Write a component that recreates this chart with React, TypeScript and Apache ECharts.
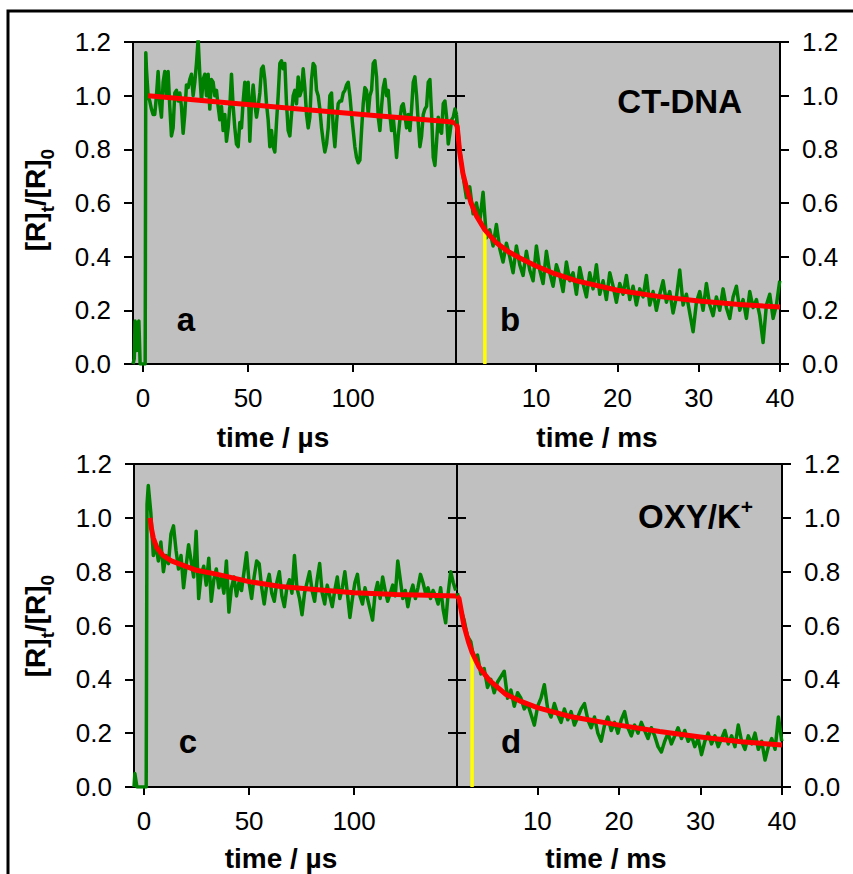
import React, { useEffect, useRef } from "react";
import * as echarts from "echarts";

const FONT = '"Liberation Sans", Arial, Helvetica, sans-serif';

// ---- tick labels ----
const yTickInterval = 0.2;
const usTicks = [0, 50, 100];
const msTicks = [10, 20, 30, 40];

// ---- panel a (CT-DNA, µs) ----
const aPreT = [-4.8, -4.2, -3.8, -3.2, -2.6, -2.0, -1.4, -0.8, 0.4, 1.0, 1.3];
const aPreV = [0.0, 0.02, 0.16, 0.05, 0.15, 0.16, 0.0, 0.0, 0.0, 0.0, 1.16];
const aStart = 1.6;
const aStep = 0.794;
const aVals = [
  1.1, 1.0, 0.98, 0.95, 0.93, 0.93, 1.0, 1.09, 0.97, 0.92, 1.05, 1.09, 1.0, 1.09, 0.96, 0.85, 0.88, 1.01, 1.02, 0.98,
  1.01, 0.96, 0.86, 0.93, 1.04, 1.03, 1.06, 1.08, 1.0, 1.05, 1.12, 1.21, 1.08, 0.98, 1.06, 1.08, 1.0, 1.08, 0.95, 1.06,
  1.05, 1.0, 1.02, 0.96, 0.91, 0.96, 0.87, 0.93, 0.83, 0.88, 0.96, 1.08, 0.96, 0.88, 0.82, 0.81, 0.9, 0.88, 0.98, 1.05,
  0.98, 1.05, 0.83, 0.97, 1.04, 0.97, 0.92, 0.96, 1.01, 1.1, 1.11, 1.06, 0.97, 0.91, 0.81, 0.87, 0.81, 0.79, 0.9, 1.0,
  1.12, 1.13, 1.1, 1.12, 0.97, 0.87, 0.85, 0.93, 1.0, 1.02, 0.97, 1.07, 1.0, 1.02,
  1.1, 1.03, 0.93, 0.88, 0.92, 1.06, 1.12, 1.11, 1.02, 1.0, 0.95, 0.88, 0.83, 0.79, 0.82, 0.88, 1.0, 1.01, 0.88, 0.81,
  0.9, 0.97, 0.98, 0.98, 1.01, 1.02, 1.04, 1.05, 1.0, 0.93, 0.87, 0.81, 0.77, 0.75, 0.76, 0.87, 0.97, 1.03, 1.02, 0.93,
  1.0, 1.02, 1.12, 1.13, 1.07, 0.92, 0.87, 0.96, 1.03, 1.06, 1.0, 1.02, 0.93, 0.87, 0.92, 0.85, 0.77, 0.85, 0.91, 0.96,
  0.97, 0.93, 0.88, 0.93, 0.87, 0.95, 1.05, 1.07, 1.0, 0.9, 0.81, 0.85, 0.93, 0.95, 0.96, 1.05, 1.06, 0.93, 0.77, 0.74,
  0.83, 0.92, 0.87, 0.86, 0.97, 0.98, 0.92, 0.82, 0.86, 0.91, 0.92, 0.95, 0.93,
];
const aFitT = [2.4, 40, 70, 110, 146, 149];
const aFitV = [1.0, 0.974, 0.953, 0.926, 0.903, 0.897];

// ---- panel b (CT-DNA, ms) ----
const bStart = 0.2;
const bStep = 0.41;
const bVals = [
  0.93, 0.8, 0.7, 0.62, 0.66, 0.56, 0.6, 0.53, 0.64, 0.47, 0.5, 0.44, 0.52, 0.43, 0.38, 0.45, 0.4, 0.34, 0.44, 0.37,
  0.33, 0.42, 0.35, 0.31, 0.44, 0.35, 0.3, 0.42, 0.34, 0.29, 0.37, 0.33, 0.27, 0.38, 0.31, 0.34, 0.26, 0.36, 0.3, 0.25,
  0.34, 0.28, 0.37, 0.26, 0.31, 0.24, 0.34, 0.29, 0.23, 0.3, 0.26, 0.33, 0.24, 0.29, 0.22, 0.28, 0.25, 0.33, 0.22, 0.27,
  0.2, 0.26, 0.31, 0.23, 0.27, 0.19, 0.25, 0.35, 0.22, 0.26, 0.19, 0.12, 0.23, 0.27, 0.2, 0.3, 0.22, 0.18, 0.25, 0.2,
  0.28, 0.21, 0.17, 0.25, 0.29, 0.2, 0.24, 0.17, 0.27, 0.21, 0.24, 0.18, 0.08, 0.22, 0.26, 0.17, 0.22, 0.31,
];
const bFitT = [0.15, 0.3, 0.6, 1.0, 1.5, 2.0, 2.7, 3.7, 5.0, 6.5, 8, 10, 12, 15, 20, 25, 30, 35, 40];
const bFitV = [0.894, 0.885, 0.79, 0.71, 0.65, 0.6, 0.55, 0.5, 0.455, 0.42, 0.395, 0.365, 0.34, 0.31, 0.275, 0.252, 0.235, 0.222, 0.212];
const bHalfT = 3.7;

// ---- panel c (OXY/K+, µs) ----
const cPreT = [-4.8, -4.4, -4.0, -3.4, -2.8, -1.5, 0, 0.6, 1.0, 1.4];
const cPreV = [0.0, 0.05, 0.03, 0.0, 0.0, 0.0, 0.0, 0.0, 0.0, 1.05];
const cStart = 2.0;
const cStep = 1.2;
const cVals = [
  1.12, 1.02, 0.86, 0.9, 0.84, 0.91, 0.8, 0.86, 0.83, 0.94, 0.97, 0.88, 0.81, 0.86, 0.74, 0.82, 0.9, 0.84, 0.78, 0.95,
  0.7, 0.79, 0.82, 0.75, 0.85, 0.69, 0.77, 0.81, 0.74, 0.78, 0.72, 0.84, 0.65, 0.74, 0.78, 0.71, 0.76, 0.73, 0.8, 0.87,
  0.76, 0.7, 0.78, 0.84, 0.83, 0.74, 0.68, 0.75, 0.79, 0.72, 0.69, 0.76, 0.8, 0.71, 0.67, 0.74, 0.77, 0.72, 0.86, 0.74,
  0.7, 0.64, 0.72, 0.76, 0.8, 0.73, 0.69, 0.77, 0.83, 0.72, 0.68, 0.75, 0.71, 0.67, 0.73, 0.78, 0.7, 0.74, 0.8, 0.72,
  0.63, 0.7, 0.76, 0.79, 0.71, 0.68, 0.74, 0.7, 0.66, 0.62, 0.72, 0.76, 0.7, 0.78, 0.73, 0.69, 0.72, 0.75, 0.71, 0.84,
  0.77, 0.7, 0.73, 0.67, 0.72, 0.75, 0.7, 0.74, 0.79, 0.76, 0.72, 0.74, 0.7, 0.73, 0.71, 0.68, 0.74, 0.66, 0.61, 0.72,
  0.8, 0.76, 0.73,
];
const cFitT = [2.8, 3.5, 4.4, 6, 9, 13, 18, 25, 35, 50, 65, 80, 100, 120, 149];
const cFitV = [1.0, 0.96, 0.925, 0.89, 0.86, 0.84, 0.825, 0.805, 0.79, 0.763, 0.745, 0.735, 0.722, 0.715, 0.71];

// ---- panel d (OXY/K+, ms) ----
const dStart = 0.2;
const dStep = 0.41;
const dVals = [
  0.72, 0.66, 0.62, 0.56, 0.54, 0.47, 0.49, 0.42, 0.44, 0.37, 0.4, 0.35, 0.39, 0.41, 0.43, 0.33, 0.36, 0.3, 0.35, 0.33,
  0.29, 0.31, 0.27, 0.23, 0.3, 0.33, 0.38, 0.29, 0.26, 0.31, 0.27, 0.24, 0.29, 0.25, 0.28, 0.23, 0.26, 0.29, 0.31, 0.25,
  0.22, 0.26, 0.2, 0.17, 0.23, 0.26, 0.21, 0.24, 0.2, 0.25, 0.28, 0.22, 0.19, 0.23, 0.2, 0.24, 0.21, 0.18, 0.22, 0.19,
  0.15, 0.13, 0.17, 0.2, 0.16, 0.19, 0.22, 0.18, 0.21, 0.17, 0.19, 0.15, 0.18, 0.12, 0.17, 0.2, 0.16, 0.19, 0.15, 0.18,
  0.21, 0.16, 0.19, 0.15, 0.23, 0.17, 0.14, 0.19, 0.16, 0.2, 0.14, 0.17, 0.1, 0.15, 0.18, 0.14, 0.26, 0.17,
];
const dFitT = [0.15, 0.4, 1.0, 1.6, 2.0, 2.85, 4.1, 6.1, 8, 10, 14, 20, 25, 30, 35, 40];
const dFitV = [0.71, 0.7, 0.6, 0.535, 0.5, 0.446, 0.397, 0.345, 0.318, 0.295, 0.262, 0.23, 0.206, 0.186, 0.168, 0.156];
const dHalfT = 2.0;
const halfValue = 0.5;

const pairs = (ts: number[], vs: number[]) => ts.map((t, i) => [t, vs[i]]);
const sampled = (t0: number, dt: number, vs: number[]) => vs.map((v, i) => [+(t0 + i * dt).toFixed(3), v]);

const GREEN = "#008000";
const RED = "#ff0000";
const YELLOW = "#ffff00";
const BLACK = "#000";

function xAx(gridIndex: number, min: number, max: number, ticks: number[]) {
  return {
    type: "value",
    gridIndex,
    min,
    max,
    axisLine: { show: true, onZero: false, lineStyle: { color: BLACK, width: 2 } },
    axisTick: { show: true, customValues: ticks, length: 8, lineStyle: { color: BLACK, width: 2 } },
    axisLabel: { customValues: ticks, margin: 21, color: BLACK, fontSize: 26, fontFamily: FONT },
    splitLine: { show: false },
  };
}

function yAx(gridIndex: number, position: string, labels: boolean) {
  return {
    type: "value",
    gridIndex,
    position,
    min: 0,
    max: 1.2,
    interval: yTickInterval,
    axisLine: { show: true, onZero: false, lineStyle: { color: BLACK, width: 2 } },
    axisTick: { show: true, length: 9, lineStyle: { color: BLACK, width: 2 } },
    axisLabel: {
      show: labels,
      margin: 22,
      color: BLACK,
      fontSize: 26,
      fontFamily: FONT,
      formatter: (v: number) => v.toFixed(1),
    },
    splitLine: { show: false },
  };
}

function line(xi: number, yi: number, data: number[][], color: string, width: number) {
  return {
    type: "line",
    xAxisIndex: xi,
    yAxisIndex: yi,
    data,
    showSymbol: false,
    symbol: "none",
    silent: true,
    lineStyle: { color, width, join: "round" },
  };
}

export default function App() {
  const ref = useRef<HTMLDivElement>(null);
  useEffect(() => {
    document.body.style.margin = "0";
    document.body.style.background = "#fff";
    const chart = echarts.init(ref.current!, null, { renderer: "svg" });
    const gridBase = { show: true, backgroundColor: "#c0c0c0", borderColor: BLACK, borderWidth: 2 };
    const aData = pairs(aPreT, aPreV).concat(sampled(aStart, aStep, aVals));
    const bData = sampled(bStart, bStep, bVals);
    const cData = pairs(cPreT, cPreV).concat(sampled(cStart, cStep, cVals));
    const dData = sampled(dStart, dStep, dVals);

    const boldText = (text: string, x: number, y: number, size: number, align = "center") => ({
      type: "text",
      x,
      y,
      z: 100,
      style: {
        text,
        fill: BLACK,
        font: `bold ${size}px ${FONT}`,
        align,
        verticalAlign: "middle",
      },
    });

    const yTitle = (x: number, y: number) => ({
      type: "text",
      x,
      y,
      z: 100,
      rotation: Math.PI / 2,
      style: {
        text: "{n|[R]}{s|t}{n|/[R]}{s|0}",
        align: "center",
        verticalAlign: "middle",
        fill: BLACK,
        rich: {
          n: { fontSize: 28, fontWeight: "bold", fontFamily: FONT, lineHeight: 44, fill: BLACK, verticalAlign: "middle" },
          s: { fontSize: 19, fontWeight: "bold", fontFamily: FONT, lineHeight: 19, fill: BLACK, verticalAlign: "bottom" },
        },
      },
    });

    chart.setOption({
      animation: false,
      backgroundColor: "#fff",
      grid: [
        { ...gridBase, left: 133, top: 42, width: 323, height: 322 },
        { ...gridBase, left: 456, top: 42, width: 324, height: 322 },
        { ...gridBase, left: 134, top: 464, width: 323, height: 323 },
        { ...gridBase, left: 457, top: 464, width: 325, height: 323 },
      ],
      xAxis: [
        xAx(0, -4.8, 149, usTicks),
        xAx(1, 0.15, 40, msTicks),
        xAx(2, -4.8, 149, usTicks),
        xAx(3, 0.15, 40, msTicks),
      ],
      yAxis: [
        yAx(0, "left", true),
        yAx(0, "right", false),
        yAx(1, "right", true),
        yAx(1, "left", false),
        yAx(2, "left", true),
        yAx(2, "right", false),
        yAx(3, "right", true),
        yAx(3, "left", false),
      ],
      series: [
        line(0, 0, aData, GREEN, 3.5),
        line(0, 0, pairs(aFitT, aFitV), RED, 5),
        line(1, 2, bData, GREEN, 3.5),
        line(1, 2, [[bHalfT, 0], [bHalfT, halfValue]], YELLOW, 3.5),
        line(1, 2, pairs(bFitT, bFitV), RED, 5),
        line(2, 4, cData, GREEN, 3.5),
        line(2, 4, pairs(cFitT, cFitV), RED, 5),
        line(3, 6, dData, GREEN, 3.5),
        line(3, 6, [[dHalfT, 0], [dHalfT, halfValue]], YELLOW, 3.5),
        line(3, 6, pairs(dFitT, dFitV), RED, 5),
      ],
      graphic: [
        {
          type: "polyline",
          z: 100,
          shape: { points: [[8, 874], [8, 11], [853, 11]] },
          style: { stroke: BLACK, lineWidth: 3, fill: "none" },
        },
        boldText("time / µs", 273, 437, 28),
        boldText("time / ms", 597, 437, 28),
        boldText("time / µs", 281, 858, 28),
        boldText("time / ms", 606, 858, 28),
        boldText("a", 186, 319, 33),
        boldText("b", 510, 319, 33),
        boldText("c", 188, 741, 33),
        boldText("d", 511, 741, 33),
        boldText("CT-DNA", 742, 101, 33, "right"),
        {
          type: "text",
          x: 753,
          y: 516,
          z: 100,
          style: {
            text: "{n|OXY/K}{p|+}",
            align: "right",
            verticalAlign: "middle",
            fill: BLACK,
            rich: {
              n: { fontSize: 33, fontWeight: "bold", fontFamily: FONT, lineHeight: 40, fill: BLACK, verticalAlign: "middle" },
              p: { fontSize: 21, fontWeight: "bold", fontFamily: FONT, lineHeight: 21, fill: BLACK, verticalAlign: "top" },
            },
          },
        },
        yTitle(35, 200),
        yTitle(35, 626),
      ],
    });
    return () => chart.dispose();
  }, []);
  return <div ref={ref} style={{ width: 853, height: 874 }} />;
}
